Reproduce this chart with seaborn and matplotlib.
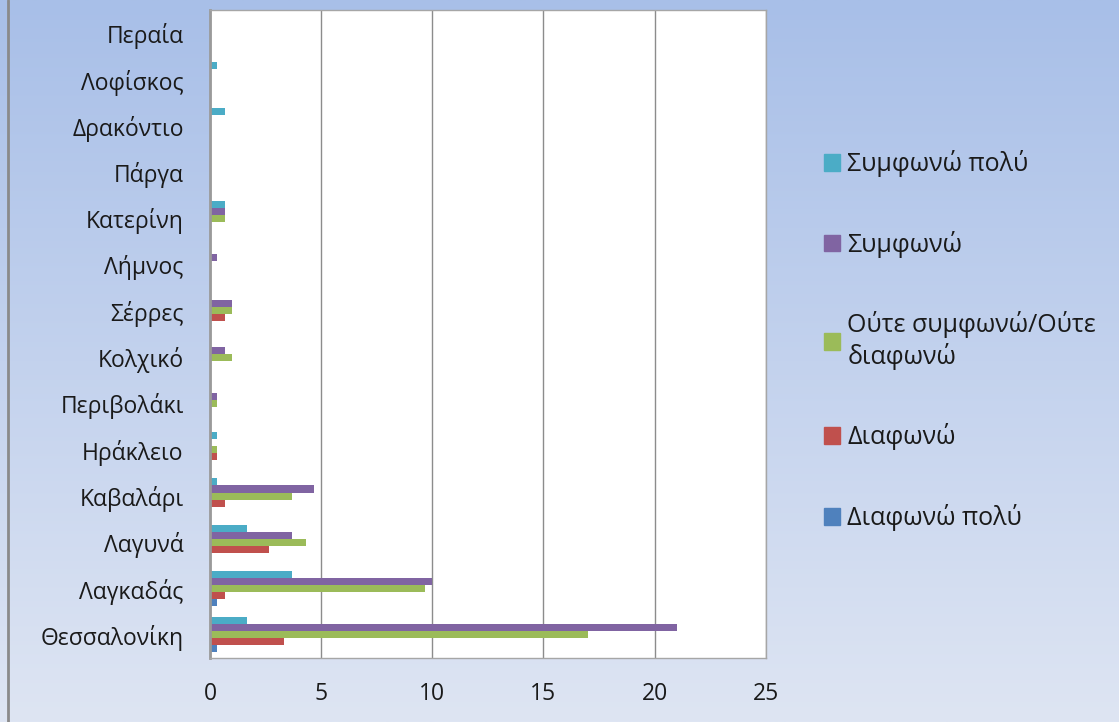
import matplotlib.pyplot as plt
import numpy as np
import pandas as pd
import seaborn as sns

sns.set_theme(style="white")
plt.rcParams['font.family'] = ['Open Sans', 'DejaVu Sans']

places = ['Περαία', 'Λοφίσκος', 'Δρακόντιο', 'Πάργα', 'Κατερίνη', 'Λήμνος', 'Σέρρες',
          'Κολχικό', 'Περιβολάκι', 'Ηράκλειο', 'Καβαλάρι', 'Λαγυνά', 'Λαγκαδάς', 'Θεσσαλονίκη']

# percentages per answer, same order as places
agree_lot = [0, 0.33, 0.67, 0, 0.67, 0, 0, 0, 0, 0.33, 0.33, 1.67, 3.67, 1.67]
agree = [0, 0, 0, 0, 0.67, 0.33, 1.0, 0.67, 0.33, 0, 4.67, 3.67, 10.0, 21.0]
neutral = [0, 0, 0, 0, 0.67, 0, 1.0, 1.0, 0.33, 0.33, 3.67, 4.33, 9.67, 17.0]
disagree = [0, 0, 0, 0, 0, 0, 0.67, 0, 0, 0.33, 0.67, 2.67, 0.67, 3.33]
disagree_lot = [0, 0, 0, 0, 0, 0, 0, 0, 0, 0, 0, 0, 0.33, 0.33]

labels = ['Συμφωνώ πολύ', 'Συμφωνώ', 'Ούτε συμφωνώ/Ούτε\nδιαφωνώ', 'Διαφωνώ', 'Διαφωνώ πολύ']
colors = ['#4BACC6', '#8064A2', '#9BBB59', '#C0504D', '#4F81BD']

series = [agree_lot, agree, neutral, disagree, disagree_lot]
df = pd.concat([pd.DataFrame({'place': places, 'value': v, 'answer': lab})
                for lab, v in zip(labels, series)], ignore_index=True)

fig = plt.figure(figsize=(11.19, 7.22), dpi=100)

# gradient background
bg = fig.add_axes([0, 0, 1, 1], zorder=-1)
top = np.array([168, 191, 232]) / 255
bot = np.array([222, 229, 243]) / 255
t = np.linspace(0, 1, 256)[:, None]
grad = top * (1 - t[..., None]) + bot * t[..., None]
bg.imshow(np.repeat(grad, 2, axis=1), aspect='auto', extent=[0, 1, 0, 1])
bg.plot([0.0075, 0.0075], [0, 1], color='#8a8a8a', lw=2)
bg.set_xlim(0, 1)
bg.set_ylim(0, 1)
bg.axis('off')

ax = fig.add_axes([0.1877, 0.0886, 0.4965, 0.8974])
sns.barplot(data=df, y='place', x='value', hue='answer', hue_order=labels,
            palette=colors, orient='h', width=0.76, saturation=1, ax=ax,
            edgecolor='none', legend=False)

ax.set_xlim(0, 25)
ax.set_xticks([0, 5, 10, 15, 20, 25])
ax.xaxis.grid(True, color='#8c8c8c', lw=1)
ax.set_axisbelow(True)
ax.set_xlabel('')
ax.set_ylabel('')
ax.tick_params(axis='y', length=0, pad=19, labelsize=16.5, labelcolor='#1a1a1a')
ax.tick_params(axis='x', length=0, pad=17, labelsize=16.5, labelcolor='#1a1a1a')
for s in ['top', 'right', 'bottom']:
    ax.spines[s].set_color('#a6a6a6')
    ax.spines[s].set_linewidth(1)
ax.spines['left'].set_color('#9a9a9a')
ax.spines['left'].set_linewidth(2)

handles = [plt.Rectangle((0, 0), 1, 1, color=c) for c in colors]
ax.legend(handles, labels, loc='center left', bbox_to_anchor=(1.064, 0.49),
          frameon=False, fontsize=18, labelspacing=2.15, handlelength=0.65,
          handleheight=0.65, handletextpad=0.3, labelcolor='#1a1a1a')

fig.savefig('out.png', dpi=100)
